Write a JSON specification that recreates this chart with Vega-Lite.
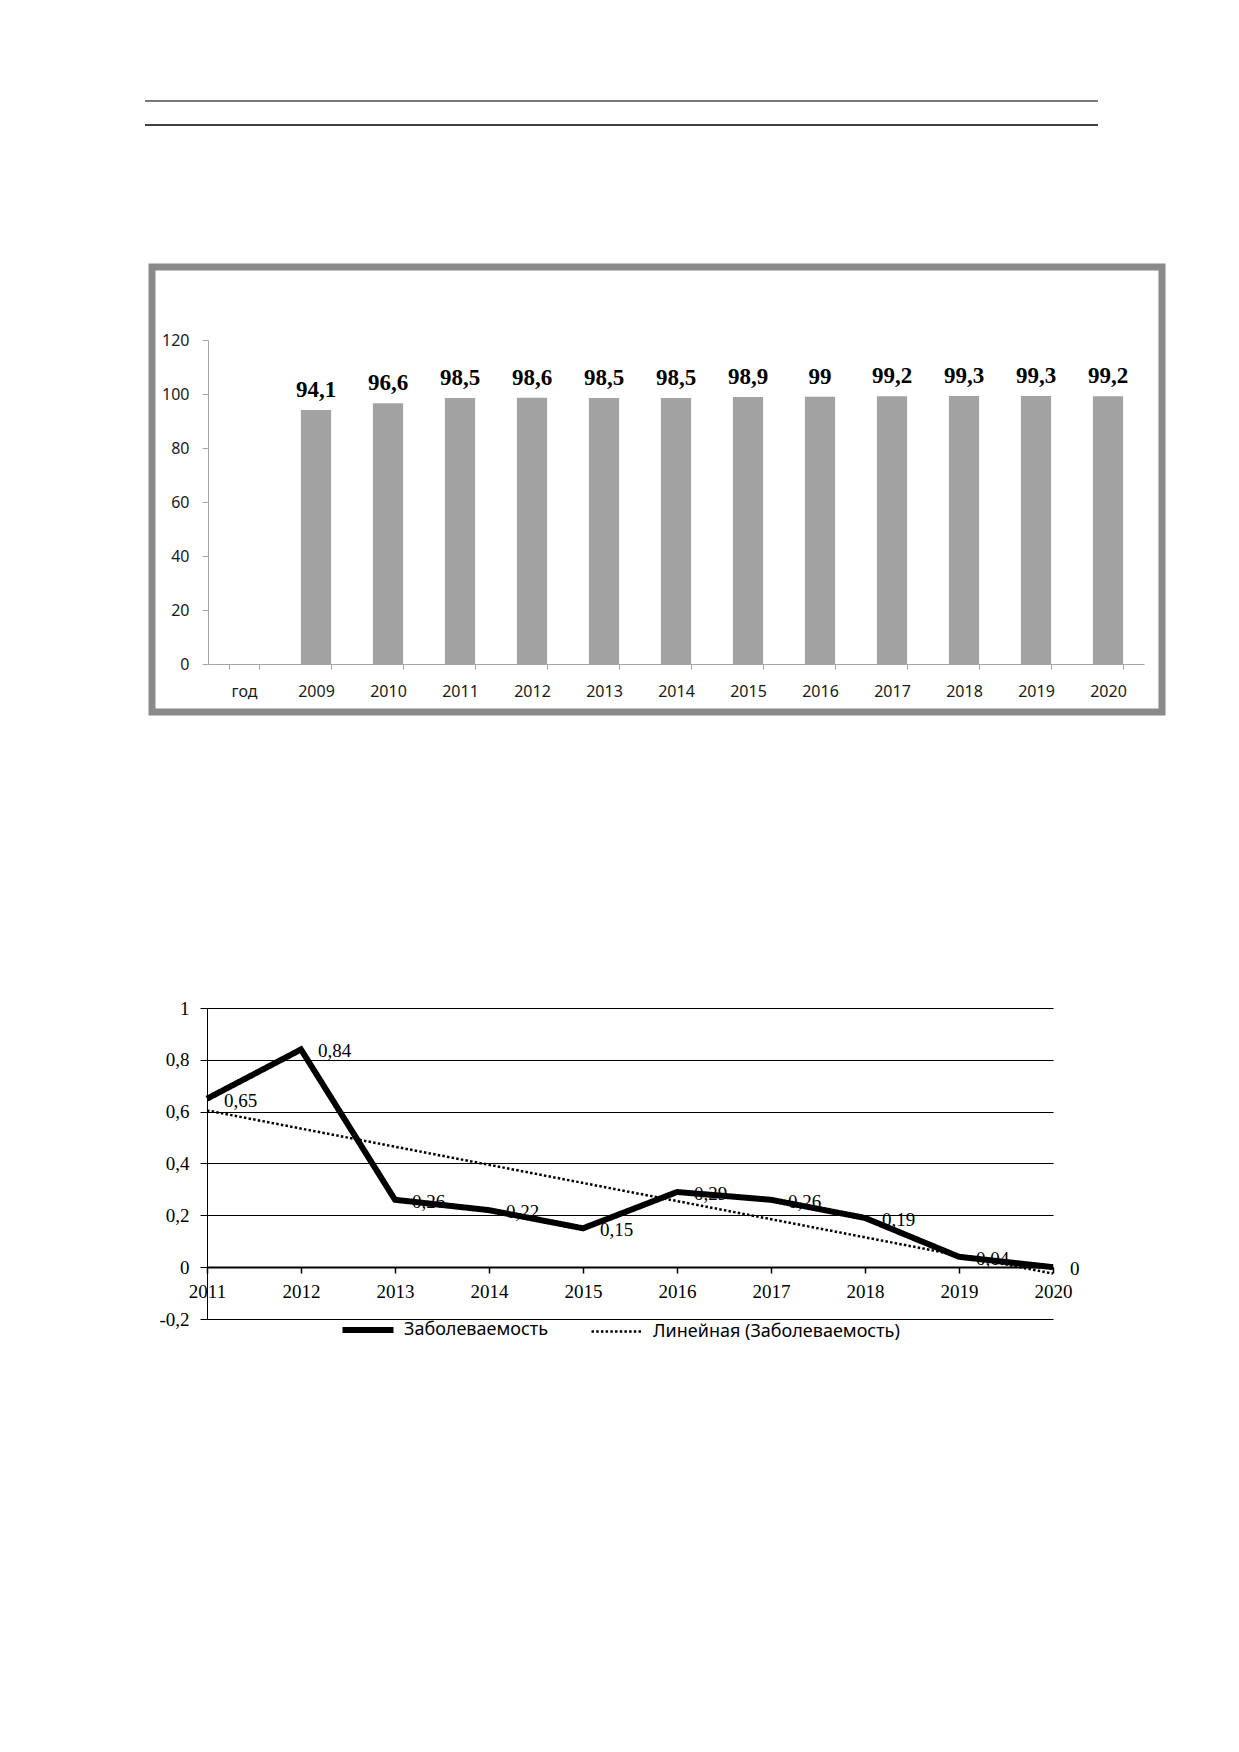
{
  "$schema": "https://vega.github.io/schema/vega-lite/v6.json",
  "background": "white",
  "padding": {"left": 144, "top": 100, "right": 10, "bottom": 10},
  "bounds": "flush",
  "spacing": 142,
  "resolve": {"legend": {"strokeDash": "independent", "color": "independent", "strokeWidth": "independent"}},
  "config": {
    "view": {"stroke": null},
    "locale": {
      "number": {"decimal": ",", "thousands": " ", "grouping": [3], "currency": ["", ""], "minus": "-"}
    }
  },
  "vconcat": [
    {
      "width": 946,
      "height": 24,
      "data": {"values": [{"rule": "top", "pos": 1}, {"rule": "bottom", "pos": 0}]},
      "mark": {"type": "rule"},
      "encoding": {
        "x": {"datum": 0, "type": "quantitative", "scale": {"domain": [0, 1], "range": [-7, 946]}, "axis": null},
        "x2": {"datum": 1},
        "y": {"field": "pos", "type": "quantitative", "scale": {"domain": [0, 1]}, "axis": null},
        "color": {"field": "rule", "type": "nominal", "scale": {"domain": ["top", "bottom"], "range": ["#7a7a7a", "#000000"]}, "legend": null},
        "strokeWidth": {"field": "rule", "type": "ordinal", "scale": {"domain": ["top", "bottom"], "range": [2, 1.5]}, "legend": null}
      }
    },
    {
      "width": 1010,
      "height": 445,
      "view": {"stroke": "#8a8a8a", "strokeWidth": 7},
      "data": {
        "values": [
          {"year": "2009", "value": 94.1},
          {"year": "2010", "value": 96.6},
          {"year": "2011", "value": 98.5},
          {"year": "2012", "value": 98.6},
          {"year": "2013", "value": 98.5},
          {"year": "2014", "value": 98.5},
          {"year": "2015", "value": 98.9},
          {"year": "2016", "value": 99},
          {"year": "2017", "value": 99.2},
          {"year": "2018", "value": 99.3},
          {"year": "2019", "value": 99.3},
          {"year": "2020", "value": 99.2}
        ]
      },
      "encoding": {
        "x": {
          "field": "year",
          "type": "ordinal",
          "scale": {
            "domain": ["год", "2009", "2010", "2011", "2012", "2013", "2014", "2015", "2016", "2017", "2018", "2019", "2020"],
            "range": [56, 992],
            "paddingInner": 0.58,
            "paddingOuter": 0.29
          },
          "axis": {
            "title": null,
            "orient": "bottom",
            "offset": -48,
            "labelAngle": 0,
            "tickBand": "extent",
            "tickSize": 5,
            "tickColor": "#a6a6a6",
            "domainColor": "#a6a6a6",
            "labelFont": "Noto Sans",
            "labelFontSize": 16,
            "labelColor": "#1a1a1a",
            "labelPadding": 14,
            "labelOverlap": false
          }
        },
        "y": {
          "field": "value",
          "type": "quantitative",
          "scale": {"domain": [0, 120], "range": [397, 73], "nice": false},
          "axis": {
            "title": null,
            "orient": "left",
            "offset": -56,
            "values": [0, 20, 40, 60, 80, 100, 120],
            "grid": false,
            "tickSize": 6,
            "tickColor": "#a6a6a6",
            "domainColor": "#a6a6a6",
            "labelFont": "Noto Sans",
            "labelFontSize": 16,
            "labelColor": "#1a1a1a",
            "labelPadding": 13,
            "labelFlush": false,
            "labelOverlap": false
          }
        }
      },
      "layer": [
        {"mark": {"type": "bar", "color": "#a2a2a2"}},
        {
          "mark": {"type": "text", "baseline": "alphabetic", "dy": -13, "font": "Liberation Serif", "fontWeight": "bold", "fontSize": 23, "color": "black"},
          "encoding": {"text": {"field": "value", "type": "quantitative", "format": ".1~f"}}
        }
      ]
    },
    {
      "width": 901,
      "height": 465,
      "data": {
        "values": [
          {"year": 2011, "value": 0.65},
          {"year": 2012, "value": 0.84},
          {"year": 2013, "value": 0.26},
          {"year": 2014, "value": 0.22},
          {"year": 2015, "value": 0.15},
          {"year": 2016, "value": 0.29},
          {"year": 2017, "value": 0.26},
          {"year": 2018, "value": 0.19},
          {"year": 2019, "value": 0.04},
          {"year": 2020, "value": 0}
        ]
      },
      "encoding": {
        "x": {
          "field": "year",
          "type": "quantitative",
          "scale": {"domain": [2011, 2020], "range": [55, 901], "nice": false, "zero": false},
          "axis": {
            "title": null,
            "orient": "bottom",
            "offset": -52,
            "values": [2011, 2012, 2013, 2014, 2015, 2016, 2017, 2018, 2019, 2020],
            "format": "d",
            "grid": false,
            "domainColor": "black",
            "domainWidth": 2,
            "tickColor": "black",
            "tickWidth": 1.5,
            "tickSize": 6,
            "labelFont": "Liberation Serif",
            "labelFontSize": 19,
            "labelColor": "black",
            "labelPadding": 9,
            "labelFlush": false,
            "labelOverlap": false
          }
        },
        "y": {
          "field": "value",
          "type": "quantitative",
          "scale": {"domain": [-0.2, 1], "range": [465, 154], "nice": false, "zero": false},
          "axis": {
            "title": null,
            "orient": "left",
            "offset": -55,
            "values": [-0.2, 0, 0.2, 0.4, 0.6, 0.8, 1],
            "format": ".1~f",
            "grid": true,
            "gridColor": "black",
            "gridWidth": 1,
            "gridOpacity": 1,
            "domainColor": "black",
            "tickColor": "black",
            "tickSize": 7,
            "labelFont": "Liberation Serif",
            "labelFontSize": 19,
            "labelColor": "black",
            "labelPadding": 11,
            "labelFlush": false,
            "labelOverlap": false
          }
        }
      },
      "layer": [
        {
          "transform": [{"regression": "value", "on": "year", "method": "linear", "extent": [2011, 2020]}],
          "mark": {"type": "line", "color": "black", "strokeWidth": 2.5},
          "encoding": {
            "strokeDash": {"datum": "Линейная (Заболеваемость)", "type": "nominal"}
          }
        },
        {
          "mark": {"type": "line", "color": "black", "strokeWidth": 6, "strokeJoin": "miter"},
          "encoding": {
            "strokeDash": {
              "datum": "Заболеваемость",
              "type": "nominal",
              "scale": {"domain": ["Заболеваемость", "Линейная (Заболеваемость)"], "range": [[1, 0], [2.5, 2.2]]},
              "legend": {
                "title": null,
                "orient": "none",
                "legendX": 207,
                "legendY": 467,
                "direction": "horizontal",
                "symbolType": "stroke",
                "symbolSize": 2600,
                "symbolStrokeColor": "black",
                "labelFont": "Noto Sans",
                "labelFontSize": 18,
                "labelColor": "black",
                "labelOffset": 27,
                "labelLimit": 400,
                "columnPadding": 38,
                "encode": {
                  "symbols": {
                    "update": {
                      "strokeWidth": {"signal": "datum.value === 'Заболеваемость' ? 6 : 2.5"}
                    }
                  }
                }
              }
            }
          }
        },
        {
          "mark": {"type": "text", "align": "left", "baseline": "middle", "dx": 17, "dy": 2, "font": "Liberation Serif", "fontSize": 19, "color": "black"},
          "encoding": {"text": {"field": "value", "type": "quantitative", "format": ".2~f"}}
        }
      ]
    }
  ]
}
